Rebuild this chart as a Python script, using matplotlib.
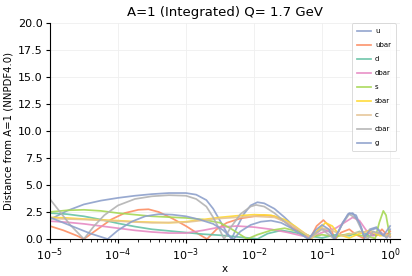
import numpy as np
import matplotlib
matplotlib.use("Agg")
import matplotlib.pyplot as plt

# ---- data: log10(x) positions and distance values per flavour ----
u_lx = [-5, -4.75, -4.5, -4.25, -4.0, -3.75, -3.5, -3.25, -3.0, -2.85, -2.7, -2.6, -2.5, -2.4, -2.33,
        -2.25, -2.15, -2.05, -1.95, -1.85, -1.7, -1.55, -1.4, -1.25, -1.18, -1.1, -1.0, -0.9, -0.8,
        -0.7, -0.6, -0.5, -0.42, -0.38, -0.3, -0.2, -0.12, -0.05, 0]
u_y = [1.8, 2.6, 3.2, 3.55, 3.8, 4.0, 4.15, 4.25, 4.25, 4.1, 3.6, 2.8, 1.7, 0.6, 0.0,
       1.1, 2.3, 3.1, 3.4, 3.3, 2.8, 2.0, 1.1, 0.3, 0.0, 0.6, 1.0, 0.7, 0.05,
       1.5, 2.4, 2.2, 1.0, 0.0, 0.9, 1.1, 0.5, 0.1, 0.9]

ubar_lx = [-5, -4.8, -4.6, -4.5, -4.3, -4.1, -3.9, -3.7, -3.55, -3.4, -3.2, -3.0, -2.8, -2.69,
           -2.55, -2.4, -2.2, -2.0, -1.85, -1.7, -1.55, -1.4, -1.25, -1.18, -1.08, -0.98, -0.88,
           -0.81, -0.72, -0.6, -0.5, -0.4, -0.3, -0.2, -0.12, -0.05, 0]
ubar_y = [1.2, 0.8, 0.3, 0.0, 0.9, 1.8, 2.4, 2.7, 2.75, 2.5, 1.9, 1.2, 0.4, 0.0,
          0.9, 1.5, 1.9, 2.1, 2.2, 2.1, 1.6, 0.9, 0.3, 0.0, 1.2, 1.75, 1.1,
          0.0, 0.6, 0.9, 0.4, 0.1, 0.6, 0.3, 0.9, 0.4, 0.7]

d_lx = [-5, -4.75, -4.5, -4.25, -4.0, -3.75, -3.5, -3.25, -3.0, -2.75, -2.5, -2.25, -2.0, -1.95,
        -1.8, -1.6, -1.4, -1.2, -1.0, -0.8, -0.6, -0.45, -0.3, -0.15, 0]
d_y = [2.4, 2.3, 2.1, 1.8, 1.45, 1.15, 0.9, 0.75, 0.6, 0.45, 0.35, 0.2, 0.05, 0.0,
       0.5, 0.8, 0.6, 0.3, 0.1, 0.4, 0.3, 0.7, 0.3, 0.5, 0.2]

dbar_lx = [-5, -4.75, -4.5, -4.25, -4.0, -3.75, -3.5, -3.25, -3.0, -2.75, -2.5, -2.25, -2.0, -1.75,
           -1.5, -1.3, -1.15, -1.0, -0.8, -0.65, -0.55, -0.45, -0.35, -0.25, -0.15, 0]
dbar_y = [1.65, 1.55, 1.4, 1.2, 1.0, 0.8, 0.65, 0.55, 0.55, 0.8, 1.1, 1.2, 1.1, 0.9,
          0.6, 0.3, 0.2, 0.6, 1.0, 1.6, 2.0, 1.7, 0.8, 0.3, 0.6, 0.2]

s_lx = [-5, -4.75, -4.5, -4.25, -4.0, -3.75, -3.5, -3.0, -2.75, -2.5, -2.35, -2.2, -2.1, -1.95,
        -1.75, -1.55, -1.35, -1.15, -1.0, -0.8, -0.6, -0.4, -0.3, -0.22, -0.16, -0.1, -0.06, -0.02, 0]
s_y = [2.5, 2.65, 2.7, 2.6, 2.4, 2.25, 2.1, 1.95, 1.8, 1.5, 1.0, 0.4, 0.0, 0.4,
       0.8, 1.0, 0.7, 0.2, 0.4, 0.2, 0.5, 0.3, 0.2, 0.05, 1.5, 2.6, 2.2, 0.8, 0.3]

sbar_lx = [-5, -4.75, -4.5, -4.0, -3.75, -3.5, -3.25, -3.0, -2.75, -2.5, -2.25, -2.0, -1.75, -1.55,
           -1.4, -1.25, -1.15, -1.05, -0.95, -0.85, -0.75, -0.6, -0.45, -0.3, -0.15, 0]
sbar_y = [2.0, 1.95, 1.85, 1.7, 1.6, 1.55, 1.5, 1.6, 1.8, 2.0, 2.15, 2.25, 2.2, 1.8,
          1.2, 0.5, 0.1, 0.9, 1.5, 1.2, 0.4, 0.1, 0.5, 0.8, 0.3, 0.4]

c_lx = [-5, -4.5, -4.0, -3.5, -3.0, -2.5, -2.0, -1.7, -1.5, -1.3, -1.15, -1.0, -0.85, -0.7,
        -0.5, -0.3, -0.1, 0]
c_y = [1.9, 1.8, 1.65, 1.5, 1.55, 1.9, 2.1, 2.0, 1.5, 0.7, 0.1, 1.0, 0.8, 0.3,
       0.6, 0.7, 0.4, 0.3]

cbar_lx = [-5, -4.85, -4.7, -4.5, -4.35, -4.2, -4.0, -3.75, -3.5, -3.25, -3.0, -2.85, -2.7, -2.6,
           -2.5, -2.44, -2.35, -2.2, -2.05, -1.97, -1.85, -1.7, -1.55, -1.4, -1.25, -1.2, -1.1,
           -1.0, -0.88, -0.82, -0.7, -0.6, -0.5, -0.4, -0.33, -0.25, -0.15, -0.05, 0]
cbar_y = [3.7, 2.5, 1.3, 0.0, 1.2, 2.2, 3.1, 3.7, 3.95, 4.05, 4.0, 3.7, 3.0, 2.0,
          0.8, 0.0, 1.0, 2.3, 3.0, 3.15, 3.0, 2.4, 1.6, 0.8, 0.2, 0.0, 0.5,
          0.9, 0.3, 0.0, 1.4, 2.3, 1.9, 0.6, 0.0, 0.7, 0.5, 0.2, 0.5]

g_lx = [-5, -4.8, -4.6, -4.4, -4.15, -4.0, -3.8, -3.6, -3.4, -3.2, -3.0, -2.8, -2.6, -2.45, -2.35,
        -2.3, -2.2, -2.05, -1.9, -1.75, -1.6, -1.45, -1.3, -1.2, -1.1, -1.0, -0.9, -0.82, -0.72,
        -0.62, -0.55, -0.45, -0.38, -0.3, -0.2, -0.1, 0]
g_y = [2.0, 1.5, 1.0, 0.5, 0.0, 0.8, 1.6, 2.1, 2.3, 2.25, 2.1, 1.8, 1.4, 0.8, 0.2,
       0.0, 0.7, 1.3, 1.6, 1.7, 1.5, 1.0, 0.4, 0.0, 0.8, 1.3, 0.9, 0.0, 1.2,
       2.3, 2.4, 1.5, 0.2, 0.8, 1.0, 0.3, 1.2]

labels = ["u", "ubar", "d", "dbar", "s", "sbar", "c", "cbar", "g"]
series = [(u_lx, u_y), (ubar_lx, ubar_y), (d_lx, d_y), (dbar_lx, dbar_y), (s_lx, s_y),
          (sbar_lx, sbar_y), (c_lx, c_y), (cbar_lx, cbar_y), (g_lx, g_y)]
colors = ["#8da0cb", "#fc8d62", "#66c2a5", "#e78ac3", "#a6d854",
          "#ffd92f", "#e5c494", "#b3b3b3", "#8da0cb"]

fig = plt.figure(figsize=(4.12, 2.76), dpi=100)
ax = fig.add_axes([0.121, 0.134, 0.850, 0.784])

for lab, (lx, yy), col in zip(labels, series, colors):
    ax.plot(np.power(10.0, np.array(lx)), yy, color=col, lw=1.25, alpha=0.9, label=lab)

ax.set_xscale("log")
ax.set_xlim(1e-5, 1.4)
ax.set_ylim(0, 20)
ax.set_yticks(np.arange(0, 20.01, 2.5))
ax.set_yticklabels([f"{v:.1f}" for v in np.arange(0, 20.01, 2.5)])
ax.grid(True, which="major", color="#efefef", lw=0.6)
ax.set_axisbelow(True)
for sp in ["top", "right"]:
    ax.spines[sp].set_visible(False)
ax.tick_params(axis="both", labelsize=8, length=3, width=0.8, pad=2)
ax.tick_params(axis="x", which="minor", length=1.8, width=0.6)
ax.set_xlabel("x", fontsize=7.5, labelpad=1)
ax.set_ylabel("Distance from A=1 (NNPDF4.0)", fontsize=7.3, labelpad=3)
ax.set_title("A=1 (Integrated) Q= 1.7 GeV", fontsize=9.5, pad=5)
leg = ax.legend(loc="upper right", fontsize=5, frameon=True, handlelength=2.0,
                handletextpad=0.6, borderpad=0.7, labelspacing=1.15,
                bbox_to_anchor=(0.99, 1.0), borderaxespad=0.1)
leg.get_frame().set_edgecolor("#cccccc")
leg.get_frame().set_linewidth(0.6)

fig.savefig("out.png", dpi=100)
